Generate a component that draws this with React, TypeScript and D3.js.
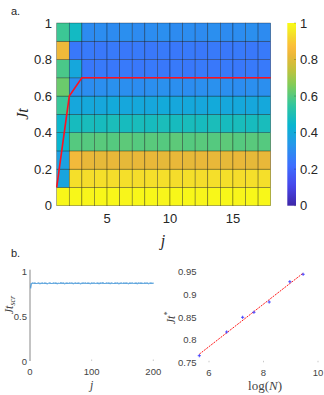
import React from "react";
import * as d3 from "d3";

// ---------- data ----------
const heatJ = d3.range(1, 18); // column start j (cells j..j+1)
const heatJt = [0, 0.1, 0.2, 0.3, 0.4, 0.5, 0.6, 0.7, 0.8, 0.9]; // row start Jt
const heatRows: number[][] = [
  [0.99, 0.99, 0.985, 0.99, 0.99, 0.985, 0.99, 0.99, 0.985, 0.99, 0.99, 0.985, 0.99, 0.99, 0.985, 0.99, 0.99],
  [0.38, 0.94, 0.935, 0.94, 0.935, 0.94, 0.935, 0.94, 0.94, 0.935, 0.94, 0.935, 0.94, 0.94, 0.935, 0.94, 0.94],
  [0.37, 0.845, 0.82, 0.815, 0.82, 0.815, 0.82, 0.82, 0.815, 0.82, 0.815, 0.82, 0.82, 0.815, 0.82, 0.815, 0.82],
  [0.44, 0.6, 0.6, 0.605, 0.6, 0.61, 0.6, 0.605, 0.6, 0.61, 0.6, 0.605, 0.6, 0.61, 0.6, 0.605, 0.6],
  [0.45, 0.48, 0.485, 0.48, 0.49, 0.48, 0.485, 0.48, 0.49, 0.48, 0.485, 0.48, 0.49, 0.48, 0.485, 0.48, 0.485],
  [0.56, 0.39, 0.395, 0.39, 0.4, 0.39, 0.395, 0.39, 0.4, 0.39, 0.395, 0.39, 0.4, 0.39, 0.395, 0.39, 0.395],
  [0.63, 0.31, 0.305, 0.31, 0.315, 0.31, 0.305, 0.31, 0.315, 0.31, 0.305, 0.31, 0.315, 0.31, 0.305, 0.31, 0.31],
  [0.585, 0.39, 0.245, 0.25, 0.245, 0.25, 0.245, 0.25, 0.245, 0.25, 0.245, 0.25, 0.245, 0.25, 0.245, 0.25, 0.25],
  [0.835, 0.245, 0.25, 0.245, 0.25, 0.245, 0.25, 0.245, 0.25, 0.245, 0.25, 0.245, 0.25, 0.245, 0.25, 0.245, 0.25],
  [0.565, 0.47, 0.3, 0.305, 0.3, 0.31, 0.3, 0.305, 0.31, 0.3, 0.305, 0.3, 0.31, 0.3, 0.305, 0.31, 0.3],
];
const boundaryJ = [1, 2, 3, 18];
const boundaryJt = [0.1, 0.6, 0.7, 0.7];
const heatXTicks = [5, 10, 15];
const heatYTicks = [0, 0.2, 0.4, 0.6, 0.8, 1];
const cbarTicks = [0, 0.2, 0.4, 0.6, 0.8, 1];

const scrValues = [
  0.815,
  0.866, 0.871, 0.869, 0.872, 0.868, 0.870, 0.873, 0.867, 0.869, 0.871,
  0.868, 0.872, 0.870, 0.866, 0.869, 0.873, 0.870, 0.868, 0.871, 0.869,
  0.872, 0.867, 0.870, 0.868, 0.874, 0.869, 0.871, 0.866, 0.870, 0.872,
  0.868, 0.871, 0.869, 0.873, 0.867, 0.870, 0.872, 0.868, 0.871, 0.869,
  0.866, 0.870, 0.873, 0.869, 0.871, 0.868, 0.872, 0.870, 0.867, 0.871,
  0.869, 0.873, 0.868, 0.870, 0.872, 0.866, 0.871, 0.869, 0.874, 0.870,
  0.868, 0.872, 0.869, 0.871, 0.867, 0.873, 0.870, 0.868, 0.872, 0.869,
  0.871, 0.866, 0.870, 0.873, 0.868, 0.871, 0.869, 0.872, 0.870, 0.867,
  0.871, 0.869, 0.873, 0.868, 0.870, 0.872, 0.866, 0.871, 0.869, 0.872,
  0.870, 0.868, 0.871, 0.869, 0.873, 0.867, 0.870, 0.872, 0.869, 0.871,
];
const scrJ = scrValues.map((_, i) => (i === 0 ? 1 : i * 2));
const scrXTicks = [0, 100, 200];
const scrYTicks = [0, 0.5, 1];

const logN = [5.645, 6.648, 7.234, 7.648, 8.209, 8.967, 9.454];
const jtStar = [0.7646, 0.8169, 0.8493, 0.8604, 0.8831, 0.9279, 0.9443];
const starXTicks = [6, 8, 10];
const starYTicks = [0.75, 0.8, 0.85, 0.9, 0.95];

// ---------- colormap (parula-like) ----------
const parulaStops: [number, string][] = [
  [0.0, "#3e26a8"],
  [0.11, "#4747eb"],
  [0.22, "#3e6fff"],
  [0.33, "#2796eb"],
  [0.44, "#08b5d0"],
  [0.55, "#31c69f"],
  [0.66, "#81cc59"],
  [0.75, "#c4c13c"],
  [0.82, "#e9b839"],
  [0.87, "#fcbc3c"],
  [0.92, "#f5d52f"],
  [0.96, "#f5ea25"],
  [1.0, "#f9fb15"],
];
const parula = d3
  .scaleLinear<string>()
  .domain(parulaStops.map((d) => d[0]))
  .range(parulaStops.map((d) => d[1]))
  .interpolate(d3.interpolateRgb)
  .clamp(true);

const SANS = "'Liberation Sans', Arial, Helvetica, sans-serif";
const SERIF = "'Liberation Serif', 'Times New Roman', serif";
const TXT = "#262626";

export default function App() {
  // heatmap scales
  const hx = d3.scaleLinear().domain([1, 18]).range([56.7, 270.7]);
  const hy = d3.scaleLinear().domain([0, 1]).range([205.7, 23]);
  const cy = d3.scaleLinear().domain([0, 1]).range([205.7, 23]);
  const cbX0 = 287.3;
  const cbX1 = 296;

  // bottom-left
  const sx = d3.scaleLinear().domain([0, 200]).range([30, 153.3]);
  const sy = d3.scaleLinear().domain([0, 1]).range([361, 271.7]);

  // bottom-right
  const rx = d3.scaleLinear().domain([5.6, 10]).range([198.1, 318]);
  const ry = d3.scaleLinear().domain([0.75, 0.95]).range([362.3, 271.7]);

  const boundaryLine = d3
    .line<number>()
    .x((_, i) => hx(boundaryJ[i]))
    .y((d) => hy(d));

  const scrLine = d3
    .line<number>()
    .x((_, i) => sx(scrJ[i]))
    .y((d) => sy(d));

  // least squares fit
  const mx = d3.mean(logN)!;
  const my = d3.mean(jtStar)!;
  const slope =
    d3.sum(logN.map((x, i) => (x - mx) * (jtStar[i] - my))) /
    d3.sum(logN.map((x) => (x - mx) * (x - mx)));
  const icpt = my - slope * mx;
  const fitX = [d3.min(logN)!, d3.max(logN)!];

  const gradStops = d3.range(0, 1.0001, 0.02);

  return (
    <svg
      width={324}
      height={395}
      style={{ position: "absolute", left: 0, top: 0, background: "#fff" }}
    >
      <defs>
        <linearGradient id="cbar" x1="0" y1="1" x2="0" y2="0">
          {gradStops.map((t) => (
            <stop key={t} offset={t} stopColor={parula(t)} />
          ))}
        </linearGradient>
      </defs>

      {/* panel labels */}
      <text x={11} y={15} fontFamily={SANS} fontSize={11} fill={TXT}>
        a.
      </text>
      <text x={11} y={257} fontFamily={SANS} fontSize={11} fill={TXT}>
        b.
      </text>

      {/* heatmap */}
      <g>
        {heatRows.map((row, ri) =>
          row.map((v, ci) => (
            <rect
              key={`${ri}-${ci}`}
              x={hx(heatJ[ci])}
              y={hy(heatJt[ri] + 0.1)}
              width={hx(heatJ[ci] + 1) - hx(heatJ[ci])}
              height={hy(heatJt[ri]) - hy(heatJt[ri] + 0.1)}
              fill={parula(v)}
              stroke="rgba(0,0,0,0.5)"
              strokeWidth={0.6}
            />
          ))
        )}
        <path
          d={boundaryLine(boundaryJt) || ""}
          fill="none"
          stroke="#ff1020"
          strokeWidth={1.6}
        />
        {heatYTicks.map((t) => (
          <text
            key={t}
            x={52}
            y={hy(t)}
            textAnchor="end"
            dominantBaseline="central"
            fontFamily={SANS}
            fontSize={13}
            fill={TXT}
          >
            {t}
          </text>
        ))}
        {heatXTicks.map((t) => (
          <text
            key={t}
            x={hx(t)}
            y={218}
            textAnchor="middle"
            dominantBaseline="central"
            fontFamily={SANS}
            fontSize={13}
            fill={TXT}
          >
            {t}
          </text>
        ))}
        <text
          transform={`translate(22,114) rotate(-90)`}
          textAnchor="middle"
          dominantBaseline="central"
          fontFamily={SERIF}
          fontStyle="italic"
          fontSize={16}
          fill={TXT}
        >
          Jt
        </text>
        <text
          x={163}
          y={240}
          textAnchor="middle"
          dominantBaseline="central"
          fontFamily={SERIF}
          fontStyle="italic"
          fontSize={16}
          fill={TXT}
        >
          j
        </text>
      </g>

      {/* colorbar */}
      <g>
        <rect
          x={cbX0}
          y={cy(1)}
          width={cbX1 - cbX0}
          height={cy(0) - cy(1)}
          fill="url(#cbar)"
        />
        {cbarTicks.map((t) => (
          <g key={t}>
            <line
              x1={cbX1 - 2}
              x2={cbX1}
              y1={cy(t)}
              y2={cy(t)}
              stroke="rgba(0,0,0,0.35)"
              strokeWidth={0.6}
            />
            <text
              x={300}
              y={cy(t)}
              dominantBaseline="central"
              fontFamily={SANS}
              fontSize={13}
              fill={TXT}
            >
              {t}
            </text>
          </g>
        ))}
      </g>

      {/* bottom-left: Jt_scr vs j */}
      <g>
        <line x1={sx(0)} x2={sx(0)} y1={sy(1) - 2} y2={sy(0)} stroke="#888" strokeWidth={1} />
        {scrYTicks.map((t) => (
          <text
            key={t}
            x={27}
            y={sy(t)}
            textAnchor="end"
            dominantBaseline="central"
            fontFamily={SANS}
            fontSize={9.5}
            fill="#444"
          >
            {t}
          </text>
        ))}
        {scrXTicks.map((t) => (
          <g key={t}>
            <line x1={sx(t)} x2={sx(t)} y1={sy(0)} y2={sy(0) - 1.5} stroke="#bbb" strokeWidth={0.8} />
            <text
              x={sx(t)}
              y={371}
              textAnchor="middle"
              dominantBaseline="central"
              fontFamily={SANS}
              fontSize={9.5}
              fill="#444"
            >
              {t}
            </text>
          </g>
        ))}
        <path d={scrLine(scrValues) || ""} fill="none" stroke="#3a8fd2" strokeWidth={1.2} />
        {scrValues.map((v, i) => (
          <circle key={i} cx={sx(scrJ[i])} cy={sy(v)} r={0.6} fill="#7fb8e6" />
        ))}
        <text
          x={sx(100)}
          y={385}
          textAnchor="middle"
          dominantBaseline="central"
          fontFamily={SERIF}
          fontStyle="italic"
          fontSize={12}
          fill="#444"
        >
          j
        </text>
        <text
          transform={`translate(9,305) rotate(-90)`}
          textAnchor="middle"
          dominantBaseline="central"
          fontFamily={SERIF}
          fontStyle="italic"
          fontSize={12}
          fill="#444"
        >
          Jt
          <tspan fontSize={8} dy={3}>
            scr
          </tspan>
        </text>
      </g>

      {/* bottom-right: Jt* vs log(N) */}
      <g>
        {starYTicks.map((t) => (
          <text
            key={t}
            x={196.5}
            y={ry(t)}
            textAnchor="end"
            dominantBaseline="central"
            fontFamily={SANS}
            fontSize={9.5}
            fill="#444"
          >
            {t}
          </text>
        ))}
        {starXTicks.map((t) => (
          <g key={t}>
            <line x1={rx(t)} x2={rx(t)} y1={ry(0.75)} y2={ry(0.75) - 1.5} stroke="#bbb" strokeWidth={0.8} />
            <text
              x={rx(t)}
              y={372}
              textAnchor="middle"
              dominantBaseline="central"
              fontFamily={SANS}
              fontSize={9.5}
              fill="#444"
            >
              {t}
            </text>
          </g>
        ))}
        <line
          x1={rx(fitX[0])}
          x2={rx(fitX[1])}
          y1={ry(icpt + slope * fitX[0])}
          y2={ry(icpt + slope * fitX[1])}
          stroke="#ff1a1a"
          strokeWidth={1}
          strokeDasharray="2,1"
        />
        {logN.map((x, i) => (
          <g key={i} stroke="#3b3bff" strokeWidth={0.9}>
            <line x1={rx(x) - 1.6} x2={rx(x) + 1.6} y1={ry(jtStar[i])} y2={ry(jtStar[i])} />
            <line x1={rx(x)} x2={rx(x)} y1={ry(jtStar[i]) - 1.6} y2={ry(jtStar[i]) + 1.6} />
          </g>
        ))}
        <text
          x={265}
          y={385}
          textAnchor="middle"
          dominantBaseline="central"
          fontFamily={SERIF}
          fontSize={13}
          fill="#444"
        >
          log(<tspan fontStyle="italic">N</tspan>)
        </text>
        <text
          transform={`translate(171,318) rotate(-90)`}
          textAnchor="middle"
          dominantBaseline="central"
          fontFamily={SERIF}
          fontStyle="italic"
          fontSize={12}
          fill="#444"
        >
          Jt
          <tspan fontSize={8} dy={-4}>
            *
          </tspan>
        </text>
      </g>
    </svg>
  );
}
